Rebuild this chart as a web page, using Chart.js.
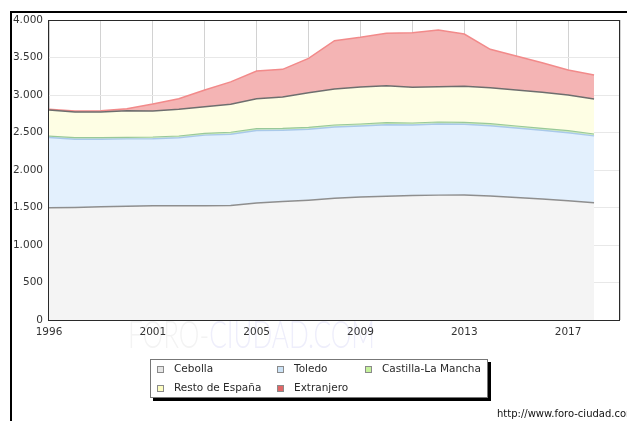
<!DOCTYPE html>
<html lang="es">
<head>
<meta charset="utf-8">
<title>Cebolla - Población según lugar de nacimiento</title>
<script src="https://cdn.jsdelivr.net/npm/chart.js@4/dist/chart.umd.min.js"></script>
<style>
    html, body { margin: 0; padding: 0; background: #ffffff; }
    canvas { display: block; }
</style>
</head>
<body>
<canvas id="population_chart" width="627" height="421"></canvas>
<script>
"use strict";
// Padrón years (no 1997 data)
const years = [1996, 1998, 1999, 2000, 2001, 2002, 2003, 2004, 2005, 2006, 2007, 2008, 2009, 2010, 2011, 2012, 2013, 2014, 2015, 2016, 2017, 2018];
// Residents by place of birth
const cebolla = [1495, 1500, 1510, 1518, 1522, 1524, 1522, 1526, 1560, 1580, 1598, 1622, 1640, 1650, 1660, 1665, 1666, 1652, 1632, 1612, 1590, 1563];
const toledo = [938, 911, 901, 897, 896, 906, 943, 952, 966, 951, 945, 951, 946, 953, 939, 947, 943, 939, 928, 918, 908, 892];
const castilla_la_mancha = [20, 20, 20, 21, 22, 23, 24, 25, 25, 25, 26, 27, 27, 28, 28, 28, 27, 27, 27, 26, 26, 25];
const resto_espana = [347, 342, 342, 355, 347, 356, 355, 373, 400, 417, 462, 480, 494, 493, 475, 471, 480, 480, 480, 480, 476, 467];
const extranjero = [9, 14, 18, 27, 93, 142, 223, 299, 369, 369, 458, 644, 662, 698, 729, 756, 697, 511, 453, 395, 333, 320];
// Y axis range
const y_max = 4000;
const y_step = 500;

const font_family = "'DejaVu Sans', 'Liberation Sans', sans-serif";

document.addEventListener("DOMContentLoaded", function () {
    const population_chart = document.querySelector("#population_chart");

    // Turns a series into {x, y} points on the index axis
    function toPoints(values) {
        return values.map(function (value, index) {
            return { x: index, y: value };
        });
    }

    // Thousands With Dot
    function formatThousands(value) {
        return String(value).replace(/\B(?=(\d{3})+(?!\d))/g, ".");
    }

    // Background, Outer Frame And Watermark
    const page_background = {
        id: "page_background",
        beforeDraw: (chart) => {
            const { ctx } = chart;
            ctx.save();
            ctx.fillStyle = "#ffffff";
            ctx.fillRect(0, 0, chart.width, chart.height);
            // watermark under the x axis
            ctx.font = "300 37px Lato, " + font_family;
            ctx.textBaseline = "alphabetic";
            const first_part = "FORO-";
            const second_part = "CIUDAD.COM";
            const full_width = ctx.measureText(first_part + second_part).width;
            const first_width = ctx.measureText(first_part).width;
            ctx.translate(128, 348);
            ctx.scale(247 / full_width, 1);
            ctx.fillStyle = "#f3f3f3";
            ctx.fillText(first_part, 0, 0);
            ctx.fillStyle = "#eeeefb";
            ctx.fillText(second_part, first_width, 0);
            ctx.restore();
            // thick frame lines
            ctx.save();
            ctx.fillStyle = "#000000";
            ctx.fillRect(10, 11, chart.width - 10, 2);
            ctx.fillRect(10, 11, 2, chart.height - 11);
            ctx.restore();
        }
    };

    // Plot Border, Legend And Footer
    const chart_extras = {
        id: "chart_extras",
        afterDraw: (chart) => {
            const { ctx, chartArea } = chart;
            ctx.save();
            ctx.strokeStyle = "#2a2a2a";
            ctx.lineWidth = 1;
            ctx.strokeRect(chartArea.left - 0.5, chartArea.top + 0.5, chartArea.right - chartArea.left, chartArea.bottom - chartArea.top);

            // legend box with shadow
            const box = { x: 150, y: 359, w: 338, h: 39 };
            ctx.fillStyle = "#000000";
            ctx.fillRect(box.x + 3, box.y + 3, box.w, box.h);
            ctx.fillStyle = "#ffffff";
            ctx.fillRect(box.x, box.y, box.w, box.h);
            ctx.strokeStyle = "#777777";
            ctx.strokeRect(box.x + 0.5, box.y + 0.5, box.w - 1, box.h - 1);

            const columns = [157, 277, 365];
            ctx.font = "10.5px " + font_family;
            ctx.textBaseline = "middle";
            chart.data.datasets.forEach(function (dataset, index) {
                const column = index % 3;
                const row = Math.floor(index / 3);
                const square_x = columns[column];
                const center_y = 369.5 + row * 19;
                ctx.fillStyle = dataset.legendColor;
                ctx.fillRect(square_x, center_y - 3.5, 7, 7);
                ctx.strokeStyle = "#8a8a8a";
                ctx.strokeRect(square_x + 0.5, center_y - 3, 6, 6);
                ctx.fillStyle = "#2a2a2a";
                ctx.fillText(dataset.label, square_x + 17, center_y);
            });

            // site address
            ctx.font = "10px " + font_family;
            ctx.textBaseline = "alphabetic";
            ctx.fillStyle = "#111111";
            ctx.fillText("http://www.foro-ciudad.com", 497, 417);
            ctx.restore();
        }
    };

    new Chart(population_chart, {
        type: "line",
        data: {
            datasets: [
                {
                    label: "Cebolla",
                    data: toPoints(cebolla),
                    borderColor: "#8e8e8e",
                    backgroundColor: "#f4f4f4",
                    legendColor: "#e6e6e6",
                    fill: "origin",
                },
                {
                    label: "Toledo",
                    data: toPoints(toledo),
                    borderColor: "#a9c9ea",
                    backgroundColor: "#e3f0fd",
                    legendColor: "#cce3f7",
                    fill: "-1",
                },
                {
                    label: "Castilla-La Mancha",
                    data: toPoints(castilla_la_mancha),
                    borderColor: "#99c999",
                    backgroundColor: "#d6f1c0",
                    legendColor: "#c5f29b",
                    borderWidth: 1.2,
                    fill: "-1",
                },
                {
                    label: "Resto de España",
                    data: toPoints(resto_espana),
                    borderColor: "#6e6e6e",
                    backgroundColor: "#fefee4",
                    legendColor: "#fdfdc2",
                    fill: "-1",
                },
                {
                    label: "Extranjero",
                    data: toPoints(extranjero),
                    borderColor: "#f28a8a",
                    backgroundColor: "#f4b4b4",
                    legendColor: "#e06666",
                    fill: "-1",
                },
            ]
        },
        options: {
            responsive: false,
            animation: false,
            devicePixelRatio: 1,
            layout: {
                padding: { left: 0, right: 7, top: 20, bottom: 81 }
            },
            scales: {
                x: {
                    type: "linear",
                    min: 0,
                    max: years.length,
                    z: 1,
                    afterFit: (scale) => { scale.height = 20; },
                    grid: {
                        color: "#d2d2d2",
                        drawTicks: false,
                    },
                    border: { display: false },
                    ticks: {
                        stepSize: 2,
                        padding: 6,
                        maxRotation: 0,
                        autoSkip: false,
                        color: "#333333",
                        font: { family: font_family, size: 10.5 },
                        callback: function (value) {
                            return value % 4 === 0 && years[value] ? String(years[value]) : "";
                        }
                    }
                },
                y: {
                    stacked: true,
                    min: 0,
                    max: y_max,
                    z: 1,
                    afterFit: (scale) => { scale.width = 49; },
                    grid: {
                        color: "#e8e8e8",
                        drawTicks: false,
                    },
                    border: { display: false },
                    ticks: {
                        stepSize: y_step,
                        padding: 6,
                        color: "#333333",
                        font: { family: font_family, size: 10.5 },
                        callback: function (value) {
                            return formatThousands(value);
                        }
                    }
                },
            },
            plugins: {
                legend: { display: false },
                tooltip: { enabled: false },
                filler: { propagate: false },
            },
            elements: {
                line: {
                    tension: 0,
                    borderWidth: 1.5,
                },
                point: {
                    radius: 0,
                    hoverRadius: 0,
                }
            }
        },
        plugins: [page_background, chart_extras],
    });
});
</script>
</body>
</html>
